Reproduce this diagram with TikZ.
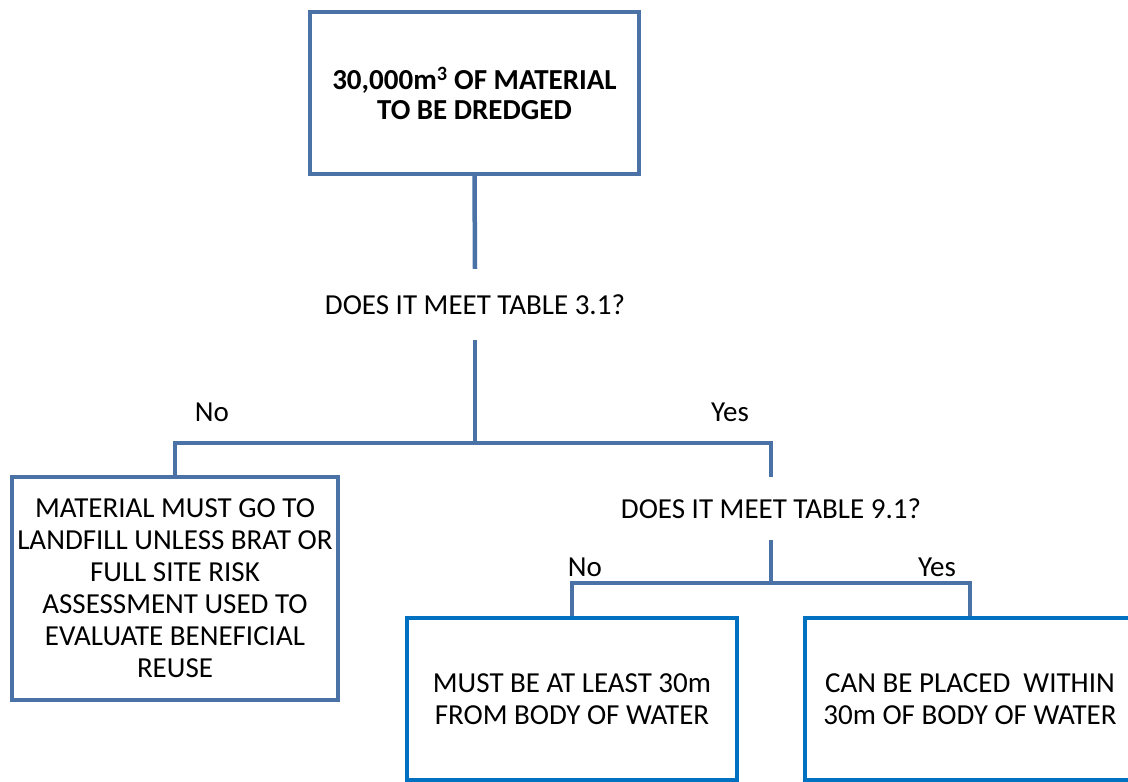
\documentclass[tikz,border=0pt]{standalone}
\usepackage{fontspec}
\setmainfont{Carlito}
\usepackage{tikz}
\pgfdeclarelayer{bg}
\pgfsetlayers{bg,main}
\definecolor{steel}{HTML}{4A72A6}
\definecolor{brightblue}{HTML}{0070C0}

\begin{document}
\begin{tikzpicture}[x=1pt, y=-1pt,
    box/.style={draw=steel, line width=4pt, fill=white, align=center,
        inner sep=0pt, font=\fontsize{29}{32}\selectfont},
    endbox/.style={box, draw=brightblue},
    question/.style={inner sep=0pt, align=center, font=\fontsize{29}{32}\selectfont},
    answer/.style={inner sep=0pt, font=\fontsize{29}{32}\selectfont},
    link/.style={draw=steel, line width=4.5pt}]
    \path[use as bounding box, clip] (0,0) rectangle (1128,782);

    \node (dredge) [box, minimum width=329pt, minimum height=162pt,
        font=\fontsize{29}{30}\selectfont\bfseries] at (474.5,93)
        {30,000m\textsuperscript{3} OF MATERIAL\\TO BE DREDGED};
    \node (q31) [question, minimum height=71pt] at (475,304.5) {DOES IT MEET TABLE 3.1?};
    \node (landfill) [box, minimum width=326pt, minimum height=223pt] at (175,588.5)
        {MATERIAL MUST GO TO\\LANDFILL UNLESS BRAT OR\\FULL SITE RISK\\ASSESSMENT USED TO\\EVALUATE BENEFICIAL\\REUSE};
    \node (q91) [question, minimum height=63pt] at (771,508.5) {DOES IT MEET TABLE 9.1?};
    \node (far) [endbox, minimum width=330pt, minimum height=162pt] at (572,699)
        {MUST BE AT LEAST 30m\\FROM BODY OF WATER};
    \node (near) [endbox, minimum width=330pt, minimum height=162pt] at (970,699)
        {CAN BE PLACED \ WITHIN\\30m OF BODY OF WATER};

    \node (no1) [answer] at (212,412) {No};
    \node (yes1) [answer] at (730,412) {Yes};
    \node (no2) [answer] at (585,567) {No};
    \node (yes2) [answer] at (937,567) {Yes};

    \coordinate (j1) at (475,443);
    \coordinate (j2) at (771,583);

    \begin{pgfonlayer}{bg}
        \draw[link] (dredge.south) -- (q31.north);
        \draw[link] (q31.south) -- (j1);
        \draw[link] (landfill.north) |- (j1) -| (q91.north);
        \draw[link] (q91.south) -- (j2);
        \draw[link] (far.north) |- (j2) -| (near.north);
    \end{pgfonlayer}
\end{tikzpicture}
\end{document}
